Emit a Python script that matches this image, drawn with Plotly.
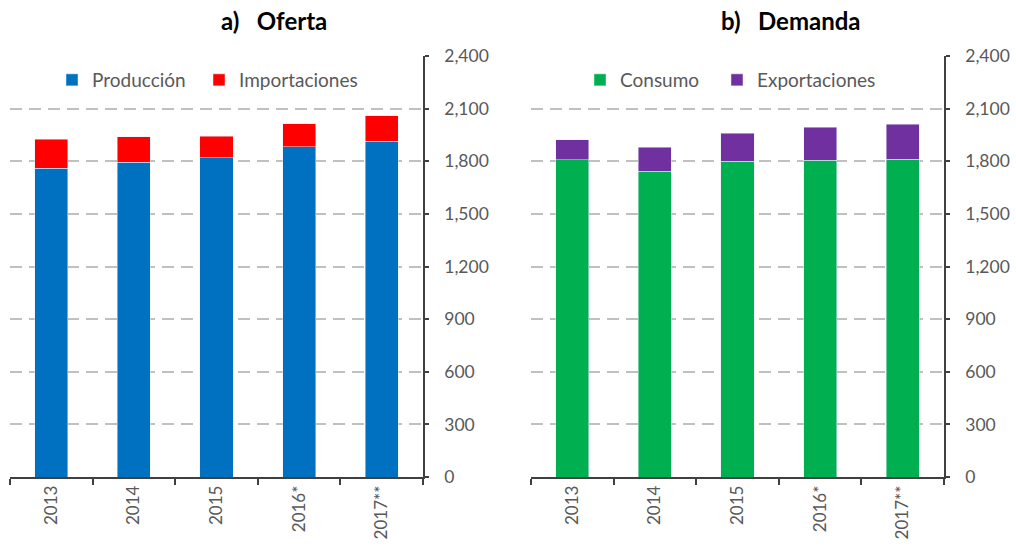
import plotly.graph_objects as go

years = ["2013", "2014", "2015", "2016*", "2017**"]
produccion = [1761, 1793, 1820, 1882, 1913]
importaciones = [165, 148, 123, 132, 146]
consumo = [1808, 1742, 1799, 1806, 1812]
exportaciones = [114, 137, 161, 187, 198]
yticks = [0, 300, 600, 900, 1200, 1500, 1800, 2100, 2400]
ytick_text = ["0", "300", "600", "900", "1,200", "1,500", "1,800", "2,100", "2,400"]

W, H = 1016, 554
FONT = "Lato"
GRAY = "#595959"

fig = go.Figure()
fig.add_trace(go.Bar(x=years, y=produccion, name="Producción", marker_color="#0070C0",
                     width=0.4, xaxis="x", yaxis="y", legend="legend"))
fig.add_trace(go.Bar(x=years, y=importaciones, name="Importaciones", marker_color="#FF0000",
                     width=0.4, xaxis="x", yaxis="y", legend="legend2"))
fig.add_trace(go.Bar(x=years, y=consumo, name="Consumo", marker_color="#00B050",
                     width=0.4, xaxis="x2", yaxis="y2", legend="legend3"))
fig.add_trace(go.Bar(x=years, y=exportaciones, name="Exportaciones", marker_color="#7030A0",
                     width=0.4, xaxis="x2", yaxis="y2", legend="legend4"))

# pixel positions measured from the top-left of the page
ydom = [(H - 477) / H, (H - 56) / H]

def xax(dom, anchor):
    return dict(domain=dom, anchor=anchor, type="category", showline=True, linecolor="#404040",
                linewidth=1.5, ticks="outside", tickson="boundaries", ticklen=6, tickwidth=1.5,
                tickcolor="#404040", tickangle=-90, showgrid=False, automargin=False,
                tickfont=dict(family=FONT, size=17, color=GRAY))

def yax(anchor):
    return dict(domain=ydom, anchor=anchor, side="right", range=[0, 2400], tickvals=yticks,
                ticktext=ytick_text, showline=True, linecolor="#404040", linewidth=1.5,
                ticks="outside", ticklen=4, tickwidth=1.5, tickcolor="#404040", automargin=False,
                ticklabelstandoff=12,
                showgrid=True, gridcolor="#C0C0C0", griddash="12px,7px", gridwidth=1.8,
                zeroline=False, tickfont=dict(family=FONT, size=17.5, color=GRAY))

def leg(x):
    return dict(orientation="h", x=x / W, y=1 - 80 / H, xanchor="left", yanchor="middle",
                font=dict(family=FONT, size=19, color=GRAY),
                bgcolor="rgba(0,0,0,0)", itemclick=False)

fig.update_layout(
    width=W, height=H, barmode="stack", plot_bgcolor="white", paper_bgcolor="white",
    margin=dict(l=0, r=0, t=0, b=0), showlegend=True,
    xaxis=xax([10 / W, 423 / W], "y"),
    yaxis=yax("x"),
    xaxis2=xax([531 / W, 944 / W], "y2"),
    yaxis2=yax("x2"),
    legend=leg(52),
    legend2=leg(199),
    legend3=leg(580),
    legend4=leg(717),
    annotations=[
        dict(text="<b>a)   Oferta</b>", x=274 / W, y=1 - 21 / H, xref="paper", yref="paper",
             xanchor="center", yanchor="middle",
             showarrow=False, font=dict(family=FONT, size=24, color="#000000")),
        dict(text="<b>b)   Demanda</b>", x=791 / W, y=1 - 21 / H, xref="paper", yref="paper",
             xanchor="center", yanchor="middle",
             showarrow=False, font=dict(family=FONT, size=24, color="#000000")),
    ],
)

fig.write_html("out.html", config={"displayModeBar": False},
               post_script="document.body.style.margin='0';document.body.style.overflow='hidden';")
